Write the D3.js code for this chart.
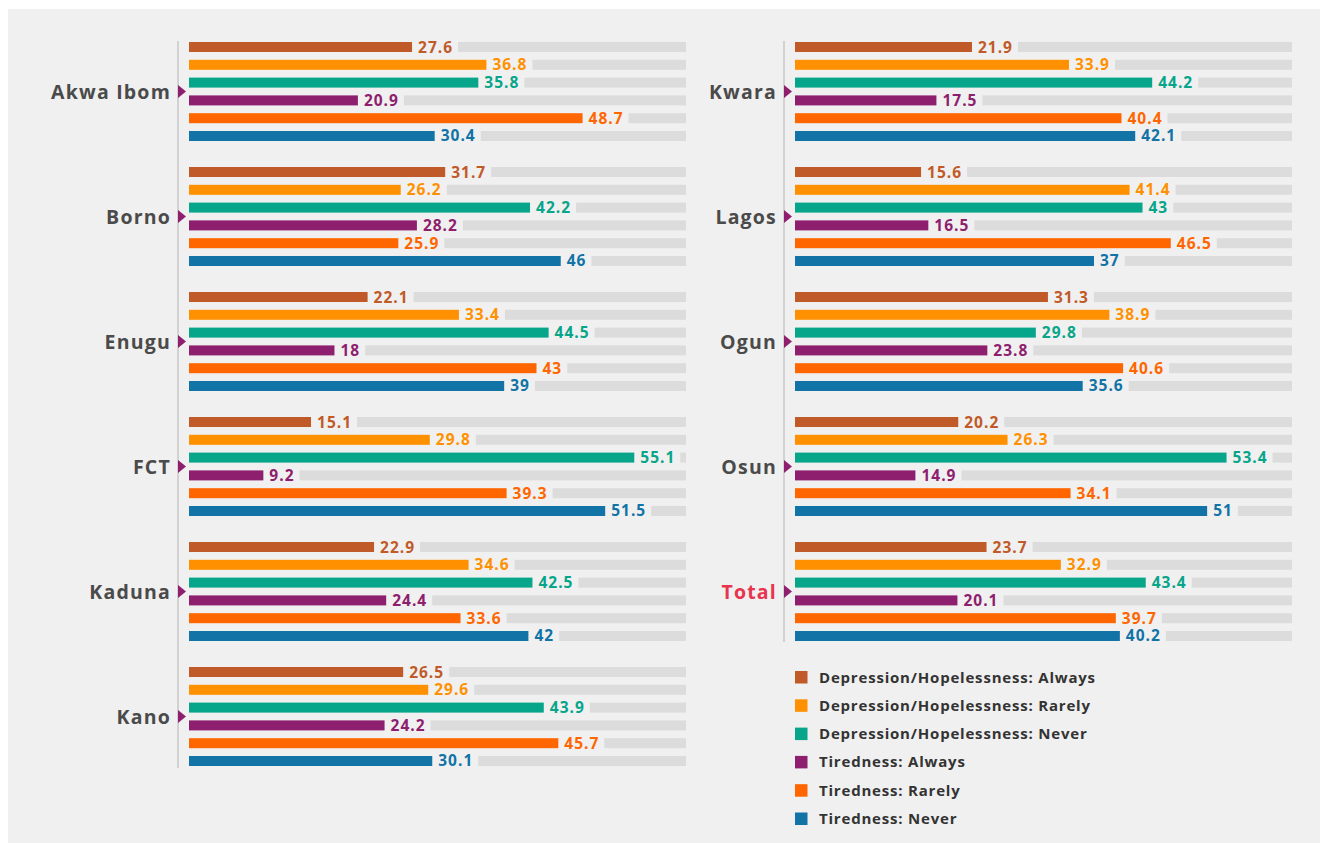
<!DOCTYPE html>
<html>
<head>
<meta charset="utf-8">
<script src="https://cdn.jsdelivr.net/npm/d3@7"></script>
<style>
  body { margin: 0; background: #fff; }
  svg text { font-family: "Open Sans", Lato, sans-serif; font-weight: 700; }
</style>
</head>
<body>
<div id="viz"></div>
<script>
"use strict";
(function(){
  // series, in drawing order inside every group
  const series = [
    "Depression/Hopelessness: Always",
    "Depression/Hopelessness: Rarely",
    "Depression/Hopelessness: Never",
    "Tiredness: Always",
    "Tiredness: Rarely",
    "Tiredness: Never"
  ]
  const colours = ["#c05a28", "#ff9100", "#07a58a", "#8e1e6e", "#ff6600", "#1273a6"]

  const leftStates = ["Akwa Ibom", "Borno", "Enugu", "FCT", "Kaduna", "Kano"]
  const rightStates = ["Kwara", "Lagos", "Ogun", "Osun", "Total"]

  const akwaIbom = [27.6, 36.8, 35.8, 20.9, 48.7, 30.4]
  const borno    = [31.7, 26.2, 42.2, 28.2, 25.9, 46]
  const enugu    = [22.1, 33.4, 44.5, 18, 43, 39]
  const fct      = [15.1, 29.8, 55.1, 9.2, 39.3, 51.5]
  const kaduna   = [22.9, 34.6, 42.5, 24.4, 33.6, 42]
  const kano     = [26.5, 29.6, 43.9, 24.2, 45.7, 30.1]
  const kwara    = [21.9, 33.9, 44.2, 17.5, 40.4, 42.1]
  const lagos    = [15.6, 41.4, 43, 16.5, 46.5, 37]
  const ogun     = [31.3, 38.9, 29.8, 23.8, 40.6, 35.6]
  const osun     = [20.2, 26.3, 53.4, 14.9, 34.1, 51]
  const total    = [23.7, 32.9, 43.4, 20.1, 39.7, 40.2]

  const leftValues = [akwaIbom, borno, enugu, fct, kaduna, kano]
  const rightValues = [kwara, lagos, ogun, osun, total]

  let m = { width: 1327, height: 843 }

  const svg = d3.select("#viz").append("svg")
      .attr("width", m.width)
      .attr("height", m.height)

  svg.append("rect")
      .attr("x", 8).attr("y", 9)
      .attr("width", 1312).attr("height", 834)
      .attr("fill", "#f0f0f0")

  const x = d3.scaleLinear().domain([0, 61.5]).range([0, 497])
  const groupY = d3.scaleBand().domain(d3.range(6)).range([42, 42 + 6 * 125])
  // 6 rows, 17.8px apart, 10px high
  const rowY = d3.scaleBand().domain(d3.range(6)).range([0, 99]).paddingInner(0.438).paddingOuter(0)

  function drawColumn(x0, states, values, axisEnd) {
    const col = svg.append("g").attr("transform", "translate(" + x0 + ",0)")

    col.append("line")
        .attr("x1", -11).attr("x2", -11)
        .attr("y1", 41).attr("y2", axisEnd)
        .attr("stroke", "#d2d2d2")
        .attr("stroke-width", 2)

    states.forEach(function(st, gi){
      const g = col.append("g").attr("transform", "translate(0," + groupY(gi) + ")")
      const mid = (rowY(5) + rowY.bandwidth()) / 2

      g.append("text")
          .attr("x", -18)
          .attr("y", mid + 7)
          .attr("text-anchor", "end")
          .attr("font-size", "19.5px")
          .attr("letter-spacing", "1.2px")
          .attr("fill", st == "Total" ? "#e8344e" : "#4a4a4a")
          .text(st)

      g.append("path")
          .attr("d", "M-11," + (mid - 6.5) + "L-3," + mid + "L-11," + (mid + 6.5) + "Z")
          .attr("fill", "#8e1e6e")

      values[gi].forEach(function(v, i){
        const y = rowY(i)
        const h = rowY.bandwidth()
        g.append("rect")
            .attr("x", 0).attr("y", y)
            .attr("width", x(v)).attr("height", h)
            .attr("fill", colours[i])
        const t = g.append("text")
            .attr("x", x(v) + 6)
            .attr("y", y + h / 2 + 5.5)
            .attr("font-size", "15.5px")
            .attr("letter-spacing", "1px")
            .attr("fill", colours[i])
            .text(v)
        const tx = x(v) + 6 + t.node().getComputedTextLength() + 5
        g.append("rect")
            .attr("x", tx).attr("y", y)
            .attr("width", Math.max(0, x.range()[1] - tx)).attr("height", h)
            .attr("fill", "#dcdcdc")
      })
    })
  }

  drawColumn(189, leftStates, leftValues, 768)
  drawColumn(795, rightStates, rightValues, 642)

  // legend
  const legend = svg.append("g").attr("transform", "translate(795,677)")
  const ly = d3.scalePoint().domain(series).range([0, 5 * 28.3])
  series.forEach(function(s, i){
    legend.append("rect")
        .attr("x", 0).attr("y", ly(s) - 6)
        .attr("width", 12.5).attr("height", 12.5)
        .attr("fill", colours[i])
    legend.append("text")
        .attr("x", 24).attr("y", ly(s) + 5.5)
        .attr("font-size", "15px")
        .attr("letter-spacing", "0.8px")
        .attr("fill", "#333")
        .text(s)
  })
})();
</script>
</body>
</html>
